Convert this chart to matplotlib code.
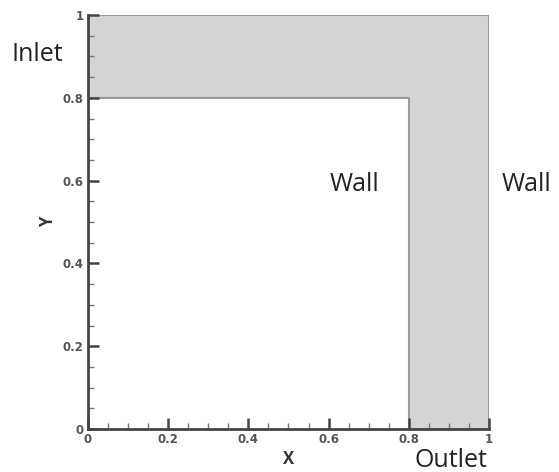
import matplotlib.pyplot as plt
from matplotlib.patches import Polygon
from matplotlib.ticker import MultipleLocator

# L-shaped channel outline (x, y)
channel_x = [0, 0, 1, 1, 0.8, 0.8]
channel_y = [0.8, 1, 1, 0, 0, 0.8]

tick_vals = [0, 0.2, 0.4, 0.6, 0.8, 1]
tick_labels = ['0', '0.2', '0.4', '0.6', '0.8', '1']

plt.rcParams['font.family'] = ['Open Sans', 'DejaVu Sans']

fig = plt.figure(figsize=(5.59, 4.72), dpi=100)
ax = fig.add_axes([0.157, 0.091, 0.718, 0.877])

poly = Polygon(list(zip(channel_x, channel_y)), closed=True,
               facecolor='#d4d4d4', edgecolor='#9a9a9a', linewidth=1.5)
ax.add_patch(poly)

ax.set_xlim(0, 1)
ax.set_ylim(0, 1)
ax.set_xticks(tick_vals)
ax.set_xticklabels(tick_labels)
ax.set_yticks(tick_vals)
ax.set_yticklabels(tick_labels)
ax.xaxis.set_minor_locator(MultipleLocator(0.05))
ax.yaxis.set_minor_locator(MultipleLocator(0.05))

for s in ['top', 'right']:
    ax.spines[s].set_visible(False)
for s in ['left', 'bottom']:
    ax.spines[s].set_linewidth(2)
    ax.spines[s].set_color('#444444')

ax.tick_params(which='major', direction='in', length=8, width=1.8,
               color='#444444', labelsize=8.5, labelcolor='#555555', pad=3)
ax.tick_params(which='minor', direction='in', length=4, width=1,
               color='#777777')
for lbl in ax.get_xticklabels() + ax.get_yticklabels():
    lbl.set_fontweight('bold')
    lbl.set_family(['DejaVu Sans'])

ax.set_xlabel('X', fontsize=12, fontweight='bold', color='#333333', labelpad=3)
ax.set_ylabel('Y', fontsize=12, fontweight='bold', color='#333333', labelpad=4)

txt = dict(fontsize=18, color='#222222', va='center', clip_on=False)
ax.text(-0.19, 0.905, 'Inlet', **txt)
ax.text(0.603, 0.59, 'Wall', **txt)
ax.text(1.032, 0.59, 'Wall', **txt)
ax.text(0.815, -0.077, 'Outlet', **txt)

fig.savefig('out.png', dpi=100)
